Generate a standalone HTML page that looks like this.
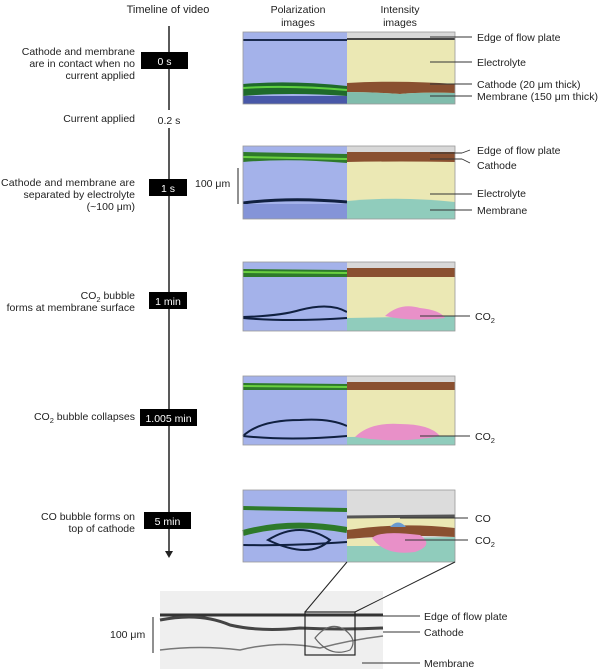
<!DOCTYPE html>
<html><head><meta charset="utf-8"><style>
body{margin:0;background:#fff;}
svg{display:block;font-family:"Liberation Sans",sans-serif;}
</style></head><body>
<svg width="600" height="671" viewBox="0 0 600 671" xmlns="http://www.w3.org/2000/svg">
<g font-size="10.5" fill="#222">
<text x="168" y="13" text-anchor="middle" font-size="11">Timeline of video</text>
<text x="298" y="13" text-anchor="middle">Polarization</text>
<text x="298" y="26" text-anchor="middle">images</text>
<text x="400" y="13" text-anchor="middle">Intensity</text>
<text x="400" y="26" text-anchor="middle">images</text>
<g text-anchor="end">
<text x="135" y="55">Cathode and membrane</text>
<text x="135" y="67">are in contact when no</text>
<text x="135" y="79">current applied</text>
<text x="135" y="122">Current applied</text>
<text x="135" y="186" textLength="134">Cathode and membrane are</text>
<text x="135" y="198">separated by electrolyte</text>
<text x="135" y="210">(~100 μm)</text>
<text x="135" y="299">CO<tspan font-size="7.5" dy="3">2</tspan><tspan dy="-3"> bubble</tspan></text>
<text x="135" y="311">forms at membrane surface</text>
<text x="135" y="420">CO<tspan font-size="7.5" dy="3">2</tspan><tspan dy="-3"> bubble collapses</tspan></text>
<text x="135" y="520">CO bubble forms on</text>
<text x="135" y="532">top of cathode</text>
</g>
</g>
<line x1="169" y1="26" x2="169" y2="110" stroke="#222" stroke-width="1.5"/>
<text x="169" y="124" text-anchor="middle" font-size="10.5" fill="#222">0.2 s</text>
<line x1="169" y1="128" x2="169" y2="552" stroke="#222" stroke-width="1.5"/>
<polygon points="165,551 173,551 169,558" fill="#222"/>
<g fill="#000"><rect x="141" y="52" width="47" height="17"/><rect x="149" y="179" width="38" height="17"/><rect x="149" y="292" width="38" height="17"/><rect x="140" y="409" width="57" height="17"/><rect x="144" y="512" width="47" height="17"/></g>
<g fill="#fff" font-size="10.5" text-anchor="middle"><text x="164.5" y="65">0 s</text><text x="168" y="192">1 s</text><text x="168" y="305">1 min</text><text x="168.5" y="422">1.005 min</text><text x="167.5" y="525">5 min</text></g>
<line x1="238" y1="168" x2="238" y2="204" stroke="#222"/>
<text x="195" y="187" font-size="10.5" fill="#222">100 μm</text>
<!-- panel 1 -->
<rect x="243" y="32" width="104" height="72" fill="#a4b2ea"/>
<rect x="243" y="39" width="104" height="2" fill="#1a2a50"/>
<path d="M243 84 Q290 80 347 86 L347 96 Q290 92 243 96Z" fill="#1f6a2a"/>
<path d="M243 88 Q290 85 347 90" stroke="#5fd040" stroke-width="2" fill="none"/>
<rect x="243" y="96" width="104" height="8" fill="#4858a8"/>
<rect x="347" y="32" width="108" height="72" fill="#ebe8b4"/>
<rect x="347" y="32" width="108" height="7" fill="#d8d8d8"/>
<rect x="347" y="38" width="108" height="2" fill="#444"/>
<path d="M347 83 Q400 80 455 84 L455 93 Q420 92 400 94 Q370 92 347 92Z" fill="#8a5030"/>
<path d="M347 92 Q370 92 400 94 Q420 92 455 93 L455 104 L347 104Z" fill="#80bcac"/>
<!-- panel 2 -->
<rect x="243" y="146" width="104" height="73" fill="#a4b2ea"/>
<path d="M243 152 L347 154 L347 163 Q290 158 243 162Z" fill="#2e7a2a"/>
<path d="M243 157 L347 159" stroke="#6ad040" stroke-width="2"/>
<path d="M243 203 Q290 197 347 202" stroke="#102040" stroke-width="3" fill="none"/>
<rect x="243" y="204" width="104" height="15" fill="#8494d8"/>
<rect x="347" y="146" width="108" height="73" fill="#ebe8b4"/>
<rect x="347" y="146" width="108" height="6" fill="#d8d8d8"/>
<path d="M347 152 L455 152 L455 162 Q400 161 347 162Z" fill="#8a5030"/>
<path d="M347 201 Q400 196 455 202 L455 219 L347 219Z" fill="#90ccbc"/>
<!-- panel 3 -->
<rect x="243" y="262" width="104" height="69" fill="#a4b2ea"/>
<path d="M243 269 L347 270 L347 277 L243 277Z" fill="#2e7a2a"/>
<path d="M243 272 L347 273" stroke="#6ad040" stroke-width="2"/>
<path d="M243 317 Q280 316 300 310 Q330 302 347 312" stroke="#102040" stroke-width="2" fill="none"/>
<path d="M243 318 Q290 322 347 318" stroke="#102040" stroke-width="2" fill="none"/>
<rect x="347" y="262" width="108" height="69" fill="#ebe8b4"/>
<rect x="347" y="262" width="108" height="6" fill="#d8d8d8"/>
<path d="M347 268 L455 268 L455 277 L347 277Z" fill="#8a5030"/>
<path d="M347 318 L455 316 L455 331 L347 331Z" fill="#90ccbc"/>
<path d="M385 316 Q400 302 420 308 Q440 310 445 318 Q410 322 385 316Z" fill="#e890c8"/>
<!-- panel 4 -->
<rect x="243" y="376" width="104" height="69" fill="#a4b2ea"/>
<path d="M243 383 L347 384 L347 390 L243 390Z" fill="#2e7a2a"/>
<path d="M243 386 L347 387" stroke="#6ad040" stroke-width="2"/>
<path d="M243 436 Q260 420 300 420 Q330 418 347 426" stroke="#102040" stroke-width="2" fill="none"/>
<path d="M243 436 Q290 441 347 436" stroke="#102040" stroke-width="2" fill="none"/>
<rect x="347" y="376" width="108" height="69" fill="#ebe8b4"/>
<rect x="347" y="376" width="108" height="6" fill="#d8d8d8"/>
<path d="M347 382 L455 382 L455 390 L347 390Z" fill="#8a5030"/>
<path d="M347 437 L455 436 L455 445 L347 445Z" fill="#90ccbc"/>
<path d="M355 437 Q370 422 400 424 Q430 424 440 436 Q400 444 355 437Z" fill="#e890c8"/>
<!-- panel 5 -->
<rect x="243" y="490" width="104" height="72" fill="#a4b2ea"/>
<path d="M243 508 L347 510" stroke="#2e7a2a" stroke-width="4"/>
<path d="M243 533 Q290 520 347 530" stroke="#2e7a2a" stroke-width="6" fill="none"/>
<path d="M268 540 Q300 520 330 540 Q310 560 268 540Z" stroke="#102040" stroke-width="2" fill="none"/>
<path d="M243 545 Q290 546 347 542" stroke="#102040" stroke-width="2" fill="none"/>
<rect x="347" y="490" width="108" height="72" fill="#dcdcdc"/>
<path d="M347 518 L455 518 L455 532 L347 532Z" fill="#ebe8b4"/>
<path d="M347 517 L455 516" stroke="#555" stroke-width="3"/>
<path d="M347 530 Q400 522 455 528 L455 537 Q400 534 347 539Z" fill="#8a5030"/>
<path d="M347 539 L455 537 L455 562 L347 562Z" fill="#90ccbc"/>
<path d="M347 539 L400 536 L400 546 L347 546Z" fill="#ebe8b4"/>
<path d="M372 538 Q380 530 420 535 Q435 545 415 552 Q385 556 372 538Z" fill="#e890c8"/>
<path d="M390 527 Q398 518 406 527Z" fill="#6a9ad0"/>
<g stroke="#999" fill="none" stroke-width="0.8"><rect x="243" y="32" width="212" height="72"/><rect x="243" y="146" width="212" height="73"/><rect x="243" y="262" width="212" height="69"/><rect x="243" y="376" width="212" height="69"/><rect x="243" y="490" width="212" height="72"/></g>
<!-- bottom -->
<rect x="160" y="591" width="223" height="78" fill="#efefef"/>
<path d="M160 615 L383 615" stroke="#333" stroke-width="3"/>
<path d="M160 620 Q200 612 230 625 Q260 632 300 628 Q340 630 383 628" stroke="#444" stroke-width="3" fill="none"/>
<path d="M160 650 Q200 645 240 650 Q280 640 320 648 Q350 640 383 636" stroke="#777" stroke-width="1.5" fill="none"/>
<path d="M315 638 Q330 620 345 630 Q358 640 350 650 Q330 658 315 638Z" stroke="#666" stroke-width="1.2" fill="none"/>
<rect x="305" y="612" width="50" height="43" fill="none" stroke="#222" stroke-width="1.2"/>
<line x1="305" y1="612" x2="347" y2="562" stroke="#222"/>
<line x1="355" y1="612" x2="455" y2="562" stroke="#222"/>
<line x1="153" y1="617" x2="153" y2="653" stroke="#222"/>
<text x="110" y="638" font-size="10.5" fill="#222">100 μm</text>
<g stroke="#333" stroke-width="0.9">
<line x1="430" y1="37" x2="472" y2="37"/><line x1="430" y1="62" x2="472" y2="62"/><line x1="430" y1="84" x2="472" y2="84"/><line x1="430" y1="96" x2="472" y2="96"/>
<line x1="430" y1="153" x2="462" y2="153"/><line x1="462" y1="153" x2="470" y2="150"/><line x1="430" y1="159" x2="462" y2="159"/><line x1="462" y1="159" x2="470" y2="163"/>
<line x1="430" y1="194" x2="472" y2="194"/><line x1="430" y1="210" x2="472" y2="210"/>
<line x1="420" y1="316" x2="470" y2="316"/>
<line x1="420" y1="436" x2="470" y2="436"/>
<line x1="400" y1="518" x2="468" y2="518"/><line x1="405" y1="540" x2="468" y2="540"/>
<line x1="383" y1="616" x2="420" y2="616"/><line x1="383" y1="632" x2="420" y2="632"/><line x1="362" y1="663" x2="420" y2="663"/>
</g>
<g font-size="10.5" fill="#222">
<text x="477" y="41">Edge of flow plate</text>
<text x="477" y="66">Electrolyte</text>
<text x="477" y="88">Cathode (20 μm thick)</text>
<text x="477" y="100" textLength="121">Membrane (150 μm thick)</text>
<text x="477" y="154">Edge of flow plate</text>
<text x="477" y="169">Cathode</text>
<text x="477" y="197">Electrolyte</text>
<text x="477" y="214">Membrane</text>
<text x="475" y="320">CO<tspan font-size="7.5" dy="3">2</tspan></text>
<text x="475" y="440">CO<tspan font-size="7.5" dy="3">2</tspan></text>
<text x="475" y="522">CO</text>
<text x="475" y="544">CO<tspan font-size="7.5" dy="3">2</tspan></text>
<text x="424" y="620">Edge of flow plate</text>
<text x="424" y="636">Cathode</text>
<text x="424" y="667">Membrane</text>
</g>
</svg>
</body></html>
